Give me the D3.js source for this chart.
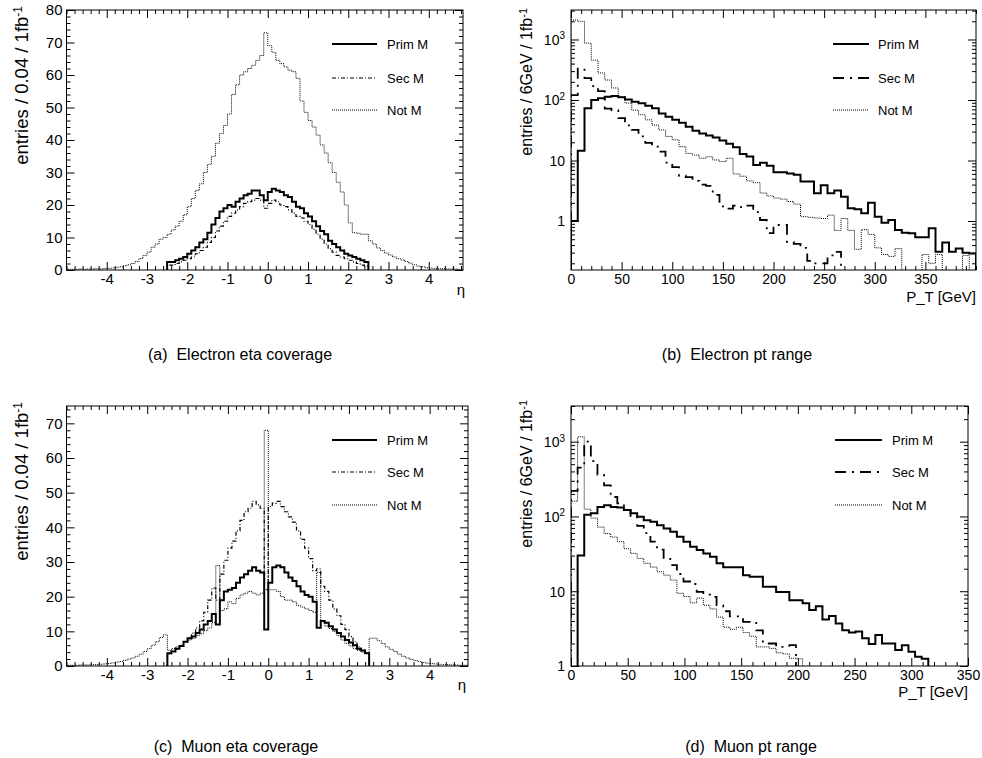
<!DOCTYPE html>
<html><head><meta charset="utf-8">
<script src="https://cdn.jsdelivr.net/npm/d3@7"></script>
<style>
body{margin:0;background:#fff;}
svg text{font-family:"Liberation Sans",Arial,Helvetica,sans-serif;fill:#000;}
</style></head><body>
<svg id="c" width="982" height="758"></svg>
<script>
// ---------------- DATA ----------------
const seriesNames = ["Prim M", "Sec M", "Not M"];
const captions = ["(a)\u00a0 Electron eta coverage", "(b)\u00a0 Electron pt range", "(c)\u00a0 Muon eta coverage", "(d)\u00a0 Muon pt range"];
const etaYTitle = "entries / 0.04 / 1fb";
const ptYTitle = "entries / 6GeV / 1fb";
const etaXTitle = "\u03b7";
const ptXTitle = "P_T [GeV]";

// eta histograms: bins of 0.1 starting at etaStart
const etaBin = 0.1;
const etaNotStart = -5.0;
const etaPrimStart = -2.5;

const eleEtaNotM = [
  0.2,0.2,0.2,0.3,0.2,0.3,0.3,0.4,0.3,0.5,
  0.5,0.6,0.8,1.0,1.3,1.6,2.0,2.6,3.5,4.5,
  5.5,7,8,9.5,10,11,12.3,13.5,15,17,
  19.5,22,24.5,26.5,30,32.5,35,39,42,44.5,
  48,54,57,60,61,62,63,64.5,66,73,
  69,67,64.5,63.5,62.5,61.5,61,59,52,48.5,
  46,44,41.5,38.5,36,33,30,27,24,20,
  14.5,11.5,11.3,11,11,9,8,6.8,6,5.2,
  4.6,4,3.5,3.1,2.6,2.1,1.6,1.2,1.0,0.7,
  0.6,0.5,0.4,0.4,0.3,0.3,0.3,0.2,0.2,0.2];
const eleEtaPrimM = [
  2.5,2.5,3,3.5,4,5,6,7,8.5,9.5,
  11.5,14,16,18,19,20,19.5,21,22,23,
  23.5,24.5,24.5,23,21.5,24,25,24.5,24,23,
  22.5,21,19.5,19,17.5,16.5,15,13.5,12,11,
  9,8,7,6,5,4.5,4,3.5,3,2.5];
const eleEtaSecM = [
  1.5,1.5,2,2.5,3,3.5,4,5,6,7,
  8.5,10,12,13.5,15,16.5,17.5,18.5,19.5,20.5,
  21,21.5,22,21.5,19,20.5,21.5,21,20,19.5,
  18.5,17.5,16.5,16,15,14,12.5,11,9.5,8,
  6.5,5.5,4.5,4,3.5,3,2.5,2,1.5,1.2];

const muEtaNotM = [
  0.2,0.2,0.2,0.3,0.3,0.3,0.4,0.4,0.5,0.6,
  0.7,0.9,1.1,1.3,1.6,2,2.3,2.8,3.4,4.2,
  5,6,7,8.2,9,4.5,5,5.5,6,7,
  7.5,8,8.8,9.3,10.2,11,12.5,29,16,16.5,
  18.5,18,19.5,20.5,21,21.5,21,20.5,21,68,
  22,22,21.5,20,19,19,18.5,17.5,17,16.5,
  16,15.5,27,13,11.5,10.8,10,8.8,7.5,6.5,
  5.8,5,4.5,4,3.7,8,8,7.3,6.5,5.5,
  4.8,4.2,3.4,2.8,2.3,1.9,1.6,1.3,1.0,0.8,
  0.7,0.6,0.5,0.4,0.4,0.3,0.3,0.2,0.2,0.2];
const muEtaPrimM = [
  3.7,4.2,5,5.8,7,8,8.5,9.5,10.5,12,
  13,15,12,19,21.5,22,22.5,24,25.5,26.5,
  27.5,28.5,27.5,27,10.5,24,28.5,29,28.5,27,
  25.5,24.5,23,21.5,20.5,20,18.5,11,13,12.5,
  11.5,10.5,9.5,8.5,7.5,6.8,6,5,4.5,3.7];
const muEtaSecM = [
  3.5,4.2,5,5.8,7,8,9.5,11,13,15.5,
  19,22.5,19,26.5,30.5,34,36,39,42,44.5,
  45.5,47.5,46.5,45.5,22,46,47,47.5,46,44.5,
  43,41.5,39,36.5,34,31,27.5,28,23,21.5,
  19,16.5,14.5,12,10.5,8.5,7,5.5,4.5,3.7];

// pT histograms: 60 bins over [0, elePtMax] and [0, muPtMax]
const elePtMax = 400;
const muPtMax = 350;
const ptBins = 60;
const elePtPrimM = [1,14.5,73,100,107,113,116,111,102,94,
  88,80,73,60,53,47,42,36,31,28,
  26,24,21.5,19,16.5,12.8,11.6,8.4,9.2,8.2,
  6.4,6.4,6.1,5.8,4.5,4.5,2.87,3.9,2.87,3.2,
  2.52,1.62,1.56,1.34,2.0,1.18,0.94,1.04,0.71,0.64,
  0.63,0.54,0.54,0.76,0.31,0.44,0.31,0.35,0.30,0.29];
const elePtSecM = [120,330,230,170,140,72,68,50,38,32,
  25,19.5,17,14,9.2,7.8,5.6,5.3,4.6,4.0,
  3.8,2.7,1.75,1.6,1.8,1.7,1.8,1.4,1.04,0.63,
  0.86,0.86,0.45,0.42,0.36,0.22,0.2,0.2,0.27,0.31,
  0,0,0,0,0,0,0,0,0,0,
  0,0,0,0,0,0,0,0,0,0];
const elePtNotM = [2100,2000,870,456,280,214,158,113,89,68,
  57,47,38.6,32,25,22,16.9,13.1,12.3,10.9,
  11.5,10.2,9.6,10.9,6.0,5.5,4.6,4.3,2.9,2.6,
  2.4,2.3,2.1,1.9,1.18,1.15,1.12,1.1,1.25,0.7,
  1.1,0.7,0.34,0.72,0.6,0.36,0.28,0.26,0.35,0,
  0,0,0.28,0.2,0.28,0,0,0,0.27,0];
const muPtPrimM = [0,30,105,110,134,141,134,132,122,110,
  99,89,85,76.5,69,62.5,53.5,46,39.3,35.6,
  32,29,23.6,21,21,21,16.4,15.6,15.6,11.5,
  11.5,9.8,9.8,7.6,7.6,6.9,5.6,6.3,4.2,4.65,
  3.7,3.0,2.8,2.9,2.35,1.97,2.6,2.0,2.0,1.64,
  1.9,1.55,1.33,1.25,0,0,0,0,0,0];
const muPtSecM = [220,450,1000,550,360,260,182,150,122,98,
  75,60,46,36,28,22.4,17,13.5,12.5,9.8,
  9,8.4,6.5,5.4,4.6,4.6,3.9,3.9,3.0,2.0,
  2.0,1.8,1.8,1.9,0,0,0,0,0,0,
  0,0,0,0,0,0,0,0,0,0,
  0,0,0,0,0,0,0,0,0,0];
const muPtNotM = [160,1160,125,95,72,59,53,46,37,32,
  27.5,23.6,21,18.2,16.4,14.1,9.4,8.5,7.0,8.1,
  6.5,5.8,4.5,3.3,3.1,3.3,2.8,2.5,1.8,1.8,
  1.72,1.5,1.45,1.27,1.25,0,0,0,0,0,
  0,0,0,0,0,0,0,0,0,0,
  0,0,0,0,0,0,0,0,0,0];

// tick labels
const etaXTicks = [-4,-3,-2,-1,0,1,2,3,4];
const eleEtaYTicks = [0,10,20,30,40,50,60,70,80];
const muEtaYTicks = [0,10,20,30,40,50,60,70];
const ptXTicks = [0,50,100,150,200,250,300,350];
const logYTicks = [1,10,100,1000];

// ---------------- DRAWING ----------------
const svg = d3.select("#c");
const styles = {
  prim:   {w:2,   dash:null},
  secEta: {w:1.2, dash:"4,2,1,2"},
  secPt:  {w:1.8, dash:"11,6,2,6"},
  not:    {w:1,   dash:"1,1"}
};

const panels = [
  {l:66.5, r:463, t:10, b:270, xDom:[-5,4.85], yDom:[0,80], log:false,
   xMaj:etaXTicks, xMinor:d3.range(-5,4.85,0.2), yMaj:eleEtaYTicks, yMinor:d3.range(0,80.1,2),
   fs:15, xPad:3,
   series:[{v:eleEtaPrimM,s0:etaPrimStart,w:etaBin,st:"prim"},{v:eleEtaSecM,s0:etaPrimStart,w:etaBin,st:"secEta"},{v:eleEtaNotM,s0:etaNotStart,w:etaBin,st:"not"}],
   leg:{x1:332,x2:377,tx:387,ys:[44,78,110]}, yTitle:etaYTitle, yt:[28,6,18.5,12], xTitle:etaXTitle, xt:[465,295,"end",15],
   cap:[240,360]},
  {l:571, r:976, t:10, b:270, xDom:[0,elePtMax], yDom:[0.155,3073], log:true,
   xMaj:ptXTicks, xMinor:d3.range(0,401,10), yMaj:logYTicks, fs:14, xPad:4,
   series:[{v:elePtPrimM,s0:0,w:elePtMax/ptBins,st:"prim"},{v:elePtSecM,s0:0,w:elePtMax/ptBins,st:"secPt"},{v:elePtNotM,s0:0,w:elePtMax/ptBins,st:"not"}],
   leg:{x1:833,x2:869,tx:878,ys:[44,78,110]}, yTitle:ptYTitle, yt:[532,8,16,11], xTitle:ptXTitle, xt:[976,302,"end",15],
   cap:[737,360]},
  {l:66.5, r:468, t:406, b:666, xDom:[-5,4.95], yDom:[0,75], log:false,
   xMaj:etaXTicks, xMinor:d3.range(-5,4.95,0.2), yMaj:muEtaYTicks, yMinor:d3.range(0,75.1,2),
   fs:15, xPad:3,
   series:[{v:muEtaPrimM,s0:etaPrimStart,w:etaBin,st:"prim"},{v:muEtaSecM,s0:etaPrimStart,w:etaBin,st:"secEta"},{v:muEtaNotM,s0:etaNotStart,w:etaBin,st:"not"}],
   leg:{x1:332,x2:377,tx:387,ys:[440,472,505]}, yTitle:etaYTitle, yt:[28,402,18.5,12], xTitle:etaXTitle, xt:[466,690,"end",15],
   cap:[236,752]},
  {l:571, r:968, t:406, b:666, xDom:[0,muPtMax], yDom:[1,3000], log:true,
   xMaj:ptXTicks, xMinor:d3.range(0,351,10), yMaj:logYTicks, fs:14, xPad:4,
   series:[{v:muPtPrimM,s0:0,w:muPtMax/ptBins,st:"prim"},{v:muPtSecM,s0:0,w:muPtMax/ptBins,st:"secPt"},{v:muPtNotM,s0:0,w:muPtMax/ptBins,st:"not"}],
   leg:{x1:835,x2:882,tx:892,ys:[440,472,505]}, yTitle:ptYTitle, yt:[532,400,16,11], xTitle:ptXTitle, xt:[968,697,"end",15],
   cap:[751,752]}
];

function logMinors(dom){
  const out=[];
  for(let e=-2;e<=4;e++) for(let m=2;m<=9;m++){ const v=m*Math.pow(10,e); if(v>=dom[0]&&v<=dom[1]) out.push(v); }
  return out;
}
function styleText(sel, fs){ sel.selectAll("text").style("font-size",fs+"px").style("font-family",'"Liberation Sans",Arial,Helvetica,sans-serif').style("fill","#000"); }
function noDomain(sel){ sel.select(".domain").remove(); sel.selectAll("line").attr("stroke","#000").attr("stroke-width",1); }

panels.forEach((p,pi)=>{
  const g = svg.append("g");
  const x = d3.scaleLinear().domain(p.xDom).range([p.l,p.r]);
  const y = (p.log? d3.scaleLog() : d3.scaleLinear()).domain(p.yDom).range([p.b,p.t]);
  const clipId = "clip"+pi;
  svg.append("clipPath").attr("id",clipId).append("rect").attr("x",p.l).attr("y",p.t).attr("width",p.r-p.l).attr("height",p.b-p.t);

  // histograms
  const line = d3.line().curve(d3.curveStepAfter).x(d=>x(d[0])).y(d=>{
    if(d[1]<=0) return p.b+2;
    return Math.min(y(d[1]), p.b+2);
  });
  const hg = g.append("g").attr("clip-path",`url(#${clipId})`);
  p.series.slice().reverse().forEach(s=>{
    const pts=[[s.s0,0]];
    s.v.forEach((v,i)=>pts.push([s.s0+i*s.w, v]));
    const end=s.s0+s.v.length*s.w;
    pts.push([end, s.v[s.v.length-1]]);
    pts.push([end, 0]);
    const st=styles[s.st];
    hg.append("path").attr("d",line(pts)).attr("fill","none").attr("stroke","#000")
      .attr("stroke-width",st.w).attr("stroke-dasharray",st.dash).attr("stroke-linejoin","miter");
  });

  // axes: ticks inside on all four sides
  const xMinor = p.xMinor.filter(v=>!p.xMaj.some(m=>Math.abs(m-v)<1e-6));
  g.append("g").attr("transform",`translate(0,${p.b})`)
    .call(d3.axisBottom(x).tickValues(p.xMaj).tickSize(-8).tickPadding(p.xPad).tickFormat(d=>String(d)))
    .call(noDomain).call(s=>styleText(s,p.fs));
  g.append("g").attr("transform",`translate(0,${p.b})`)
    .call(d3.axisBottom(x).tickValues(xMinor).tickSize(-4).tickFormat(()=>"")).call(noDomain);
  g.append("g").attr("transform",`translate(0,${p.t})`)
    .call(d3.axisTop(x).tickValues(p.xMaj).tickSize(-8).tickFormat(()=>"")).call(noDomain);
  g.append("g").attr("transform",`translate(0,${p.t})`)
    .call(d3.axisTop(x).tickValues(xMinor).tickSize(-4).tickFormat(()=>"")).call(noDomain);

  let yMinor;
  if(p.log){
    yMinor = logMinors(p.yDom);
    const ya = g.append("g").attr("transform",`translate(${p.l},0)`)
      .call(d3.axisLeft(y).tickValues(p.yMaj).tickSize(-8).tickPadding(6).tickFormat(()=>""))
      .call(noDomain);
    ya.selectAll(".tick").each(function(d){
      const t=d3.select(this).select("text").attr("dy","0.35em").style("font-size",p.fs+"px");
      const e=Math.round(Math.log10(d));
      if(e===0) t.text("1");
      else if(e===1) t.text("10");
      else { t.text("10"); t.append("tspan").attr("dy","-0.55em").style("font-size","10px").text(String(e)); }
    });
  } else {
    yMinor = p.yMinor.filter(v=>!p.yMaj.some(m=>Math.abs(m-v)<1e-6));
    g.append("g").attr("transform",`translate(${p.l},0)`)
      .call(d3.axisLeft(y).tickValues(p.yMaj).tickSize(-8).tickPadding(4).tickFormat(d=>String(d)))
      .call(noDomain).call(s=>styleText(s,p.fs));
  }
  g.append("g").attr("transform",`translate(${p.l},0)`)
    .call(d3.axisLeft(y).tickValues(yMinor).tickSize(-4).tickFormat(()=>"")).call(noDomain);
  g.append("g").attr("transform",`translate(${p.r},0)`)
    .call(d3.axisRight(y).tickValues(p.yMaj).tickSize(-8).tickFormat(()=>"")).call(noDomain);
  g.append("g").attr("transform",`translate(${p.r},0)`)
    .call(d3.axisRight(y).tickValues(yMinor).tickSize(-4).tickFormat(()=>"")).call(noDomain);

  // frame
  g.append("rect").attr("x",p.l).attr("y",p.t).attr("width",p.r-p.l).attr("height",p.b-p.t)
    .attr("fill","none").attr("stroke","#000").attr("stroke-width",1);

  // legend
  p.series.forEach((s,i)=>{
    const st=styles[s.st], yy=p.leg.ys[i];
    g.append("line").attr("x1",p.leg.x1).attr("x2",p.leg.x2).attr("y1",yy).attr("y2",yy)
      .attr("stroke","#000").attr("stroke-width",st.w).attr("stroke-dasharray",st.dash);
    g.append("text").attr("x",p.leg.tx).attr("y",yy).attr("dy","0.35em").style("font-size","13px").text(seriesNames[i]);
  });

  // axis titles
  const yt = g.append("text").attr("transform",`translate(${p.yt[0]},${p.yt[1]}) rotate(-90)`)
    .attr("text-anchor","end").style("font-size",p.yt[2]+"px").text(p.yTitle);
  yt.append("tspan").attr("dy","-0.5em").style("font-size",p.yt[3]+"px").text("-1");
  g.append("text").attr("x",p.xt[0]).attr("y",p.xt[1]).attr("text-anchor",p.xt[2]).style("font-size",p.xt[3]+"px").text(p.xTitle);

  // caption
  g.append("text").attr("x",p.cap[0]).attr("y",p.cap[1]).attr("text-anchor","middle").style("font-size","16px").text(captions[pi]);
});
</script>
</body></html>
